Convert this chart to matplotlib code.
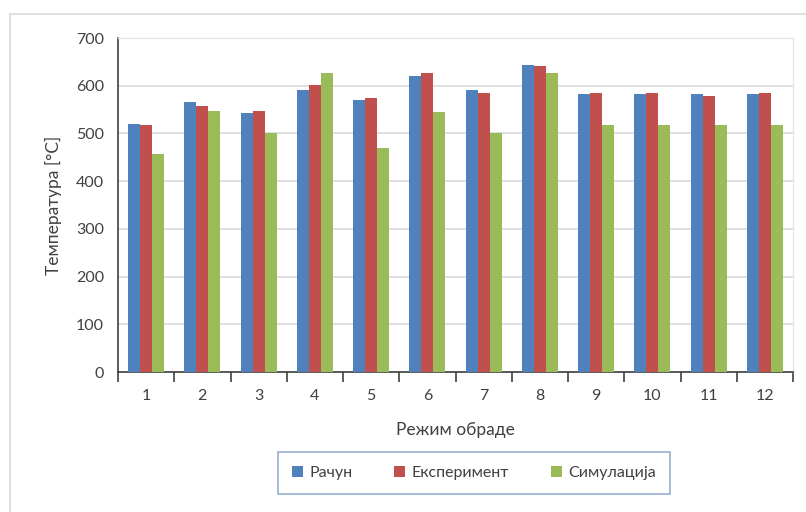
import matplotlib
matplotlib.use("Agg")
import matplotlib.pyplot as plt
import numpy as np
from matplotlib.patches import Rectangle

categories = ["1", "2", "3", "4", "5", "6", "7", "8", "9", "10", "11", "12"]
racun = [520, 566, 542, 591, 570, 620, 591, 644, 583, 583, 583, 583]
eksperiment = [517, 557, 548, 601, 575, 626, 585, 641, 585, 585, 579, 585]
simulacija = [457, 548, 500, 626, 469, 545, 500, 626, 517, 517, 517, 517]
series_names = ["Рачун", "Експеримент", "Симулација"]
colors = ["#4F81BD", "#C0504D", "#9BBB59"]
yticks = [0, 100, 200, 300, 400, 500, 600, 700]

plt.rcParams['font.family'] = ['Lato', 'DejaVu Sans']

fig = plt.figure(figsize=(8.06, 5.12), dpi=100)
W, H = 806, 512
# outer chart border
fig.patches.append(Rectangle((10 / W, -0.01), 1.0, (H - 14) / H + 0.01, transform=fig.transFigure,
                             fill=False, edgecolor="#D9D9D9", linewidth=1.2))
ax = fig.add_axes([118 / W, 1 - 372 / H, (793 - 118) / W, (372 - 38) / H])

x = np.arange(len(categories))
bw = 0.213
for i, (vals, name, c) in enumerate(zip([racun, eksperiment, simulacija], series_names, colors)):
    ax.bar(x + (i - 1) * bw, vals, width=bw, color=c, label=name, zorder=3)

ax.set_xlim(-0.5, len(categories) - 0.5)
ax.set_ylim(0, 700)
ax.set_yticks(yticks)
ax.set_xticks(x)
ax.set_xticklabels(categories)
ax.set_xticks(np.arange(-0.5, len(categories), 1.0), minor=True)
ax.tick_params(axis='x', which='major', length=0, pad=12, labelsize=11.5, labelcolor="#404040")
ax.tick_params(axis='x', which='minor', length=7, width=1.2, color="#404040", direction='out')
ax.tick_params(axis='y', length=0, pad=10, labelsize=11.5, labelcolor="#404040")
ax.grid(axis='y', color="#D9D9D9", linewidth=1.2, zorder=0)
for s in ["top", "right"]:
    ax.spines[s].set_color("#E8E6E0")
    ax.spines[s].set_linewidth(1.0)
ax.spines["left"].set_color("#404040")
ax.spines["bottom"].set_color("#404040")
ax.spines["left"].set_linewidth(1.2)
ax.spines["bottom"].set_linewidth(1.2)

ax.set_ylabel("Температура [°C]", fontsize=12.5, color="#404040", labelpad=10)
ax.set_xlabel("Режим обраде", fontsize=12.5, color="#404040", labelpad=14)

leg = fig.legend(loc='center', bbox_to_anchor=((276 + 672) / 2 / W, 1 - 473 / H),
                 ncol=3, frameon=True, fancybox=False, fontsize=11.5,
                 handlelength=0.7, handleheight=0.7, handletextpad=0.4,
                 columnspacing=2.6, borderpad=0.9, borderaxespad=0)
leg.get_frame().set_edgecolor("#7F9CC4")
leg.get_frame().set_linewidth(1.2)
for t in leg.get_texts():
    t.set_color("#404040")
leg._legend_box.align = "center"

fig.savefig("out.png", dpi=100)
